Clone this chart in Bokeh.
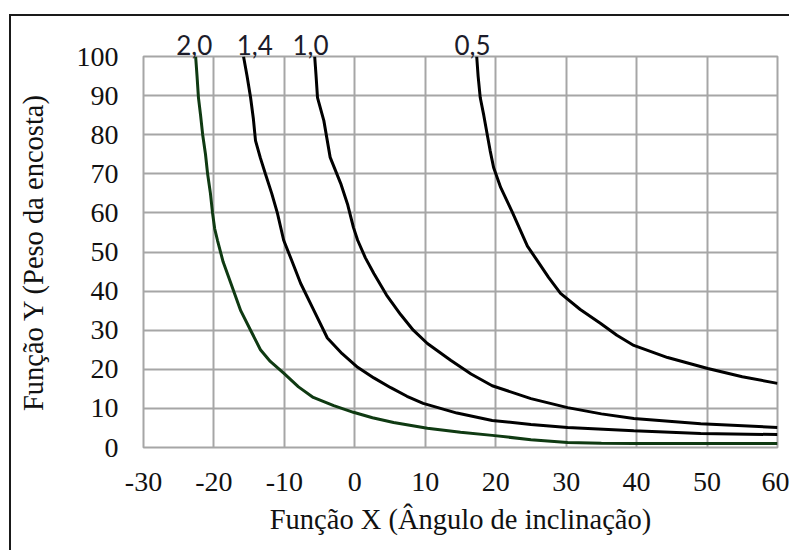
from bokeh.plotting import figure
from bokeh.models import Range1d, FixedTicker, LinearAxis
from bokeh.embed import file_html
from bokeh.resources import INLINE

# Data
x_ticks = [-30, -20, -10, 0, 10, 20, 30, 40, 50, 60]
x_tick_labels = ["-30", "-20", "-10", "0", "10", "20", "30", "40", "50", "60"]
y_ticks = [0, 10, 20, 30, 40, 50, 60, 70, 80, 90, 100]

curve_names = ["2,0", "1,4", "1,0", "0,5"]
label_x = [-22.8, -14.2, -6.3, 16.7]

x_20 = [-22.6, -22.4, -22.2, -21.9, -21.6, -21.2, -20.9, -20.5, -20.2, -19.9, -19.5, -18.7, -17.6, -16.2,
        -14.8, -13.4, -12.0, -10.1, -8.0, -5.9, -3.0, -0.2, 2.5, 5.5, 10.3, 15.0, 19.5, 25.0, 30.2, 35.0, 39.6, 60]
y_20 = [100, 95, 89.5, 85, 80, 75, 70, 65, 60, 56, 53, 47.5, 42, 35,
        30, 25, 22, 19, 15.5, 12.8, 10.7, 9.0, 7.6, 6.4, 4.9, 3.9, 3.1, 2.0, 1.3, 1.1, 1.0, 1.0]

x_14 = [-15.8, -15.3, -14.8, -14.4, -14.1, -13.4, -12.7, -11.8, -11.0, -10.1, -9.0, -7.7, -5.8, -3.9,
        -1.8, 0.4, 2.7, 5.1, 7.4, 9.7, 14.5, 19.5, 25.0, 30.2, 39.6, 49.1, 60]
y_14 = [100, 95, 89.5, 84, 78.5, 74, 70, 65, 60, 53, 48, 42, 35, 28,
        24, 20.5, 17.8, 15.3, 13.1, 11.3, 8.8, 6.9, 5.9, 5.1, 4.3, 3.6, 3.3]

x_10 = [-5.7, -5.5, -5.3, -4.4, -3.5, -2.0, -1.0, -0.2, 0.4, 1.5, 2.7, 4.5, 6.5, 8.3, 10.3, 13.6,
        16.5, 19.5, 25.0, 30.2, 35.0, 39.6, 49.1, 60]
y_10 = [100, 95, 89.5, 83.6, 74.2, 67.5, 62, 56.3, 53, 48.5, 44.5, 39, 34, 30, 26.6, 22.3,
        18.8, 15.8, 12.5, 10.2, 8.6, 7.4, 6.1, 5.1]

x_05 = [17.3, 17.5, 17.8, 18.3, 18.8, 19.2, 19.7, 20.7, 22.4, 24.5, 25.9, 27.5, 29.2, 32.0, 34.9,
        37.2, 39.6, 44.4, 50.1, 55.0, 60]
y_05 = [100, 95, 89.5, 85, 80, 76, 71.6, 66.5, 60, 51.5, 47.8, 43.5, 39.4, 35.3, 31.7,
        28.7, 26.1, 23.0, 20.2, 18.1, 16.4]

p = figure(width=789, height=550, output_backend="svg", toolbar_location=None,
           x_range=Range1d(-30, 60), y_range=Range1d(0, 100),
           min_border_left=143, min_border_right=12, min_border_top=56, min_border_bottom=103)

# outer partial frame (top and left lines) drawn behind a transparent canvas border
p.border_fill_alpha = 0
p.styles = {
    "background": "linear-gradient(#1a1a1a, #1a1a1a) 10px 14px / 100% 2px no-repeat, "
                  "linear-gradient(#1a1a1a, #1a1a1a) 9px 14px / 2px 100% no-repeat, white"
}

p.background_fill_color = "white"
p.outline_line_color = "#a6a6a6"
p.outline_line_width = 2

grid_color = "#a6a6a6"
p.xgrid.grid_line_color = grid_color
p.ygrid.grid_line_color = grid_color
p.xgrid.grid_line_width = 2
p.ygrid.grid_line_width = 2
p.xaxis.ticker = FixedTicker(ticks=x_ticks)
p.yaxis.ticker = FixedTicker(ticks=y_ticks)
p.xaxis.major_label_overrides = {t: s for t, s in zip(x_ticks, x_tick_labels)}

for ax in (p.xaxis[0], p.yaxis[0]):
    ax.axis_line_color = None
    ax.major_tick_line_color = None
    ax.minor_tick_line_color = None
    ax.major_tick_out = 0
    ax.major_tick_in = 0
    ax.major_label_text_font = "Liberation Serif"
    ax.major_label_text_font_size = "28px"
    ax.major_label_text_color = "#111111"
    ax.axis_label_text_font = "Liberation Serif"
    ax.axis_label_text_font_size = "28.5px"
    ax.axis_label_text_font_style = "normal"
    ax.axis_label_text_color = "#111111"

p.xaxis.axis_label = "Função X (Ângulo de inclinação)"
p.yaxis.axis_label = "Função Y (Peso da encosta)"
p.xaxis.major_label_standoff = 25
p.yaxis.major_label_standoff = 25
p.xaxis.axis_label_standoff = 10
p.yaxis.axis_label_standoff = 25

# curve name labels along the top, as an extra axis
top_axis = LinearAxis(ticker=FixedTicker(ticks=label_x),
                      major_label_overrides={t: s for t, s in zip(label_x, curve_names)})
top_axis.axis_line_color = None
top_axis.major_tick_line_color = None
top_axis.minor_tick_line_color = None
top_axis.major_tick_out = 0
top_axis.major_tick_in = 0
top_axis.major_label_standoff = 2
top_axis.major_label_text_font = "Lato"
top_axis.major_label_text_font_size = "26px"
top_axis.major_label_text_color = "#1c1c2a"
p.add_layout(top_axis, "above")

p.line(x_20, y_20, line_color="#0f3a12", line_width=3)
p.line(x_14, y_14, line_color="#000000", line_width=3)
p.line(x_10, y_10, line_color="#000000", line_width=3)
p.line(x_05, y_05, line_color="#000000", line_width=3)

open("out.html", "w").write(file_html(p, INLINE))
